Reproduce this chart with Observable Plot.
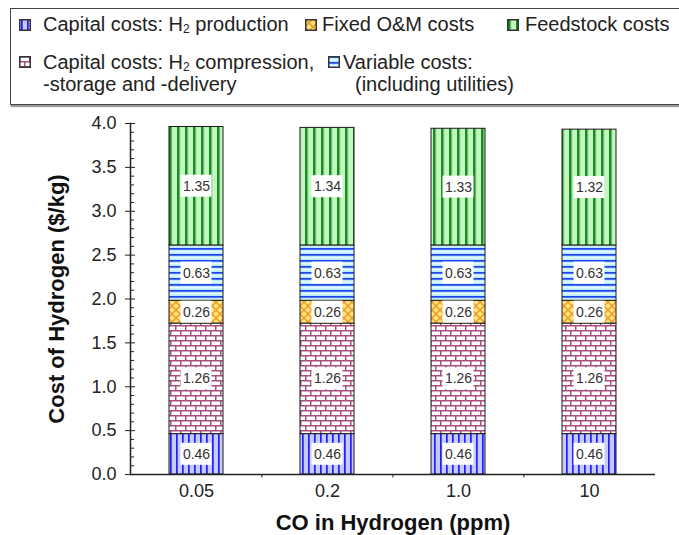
<!DOCTYPE html>
<html><head><meta charset="utf-8">
<script src="https://cdn.jsdelivr.net/npm/d3@7"></script>
<script src="https://cdn.jsdelivr.net/npm/@observablehq/plot@0.6"></script>
<style>
body{margin:0;background:#fff;font-family:"Liberation Sans",Arial,sans-serif;}
#wrap{position:relative;width:679px;height:535px;overflow:hidden;background:#fff;}
#legend{position:absolute;left:10px;top:8px;width:720px;height:97px;border:1px solid #444;box-shadow:1px 2px 1px #9a9a9a;box-sizing:border-box;background:#fff;}
.item{position:absolute;font-size:20px;color:#222;line-height:21px;white-space:nowrap;}
.item sub{font-size:12px;line-height:0;vertical-align:-2px;}
.sw{position:absolute;width:12px;height:12px;}
#chart{position:absolute;left:0;top:110px;}
</style></head>
<body>
<div id="wrap">
<svg id="defs" width="0" height="0" style="position:absolute;left:0;top:0">
<defs>
<pattern id="p-prod" width="6" height="6" patternUnits="userSpaceOnUse">
<rect width="6" height="6" fill="#c7caff"/><rect x="2" width="1.7" height="6" fill="#1e1eff"/>
</pattern>
<pattern id="p-comp" width="10" height="10" patternUnits="userSpaceOnUse">
<rect width="10" height="10" fill="#ffffff"/>
<rect y="0" width="10" height="1.5" fill="#a84f80"/>
<rect y="5" width="10" height="1.5" fill="#a84f80"/>
<rect x="0" y="0" width="1.5" height="5" fill="#a84f80"/>
<rect x="5" y="5" width="1.5" height="5" fill="#a84f80"/>
</pattern>
<pattern id="p-fixed" width="8" height="8" patternUnits="userSpaceOnUse">
<rect width="8" height="8" fill="#ffe57c"/>
<path d="M0,0L8,8M8,0L0,8" stroke="#f09a2a" stroke-width="1.5"/>
</pattern>
<pattern id="p-var" width="6" height="6" patternUnits="userSpaceOnUse">
<rect width="6" height="6" fill="#b9ecfd"/>
<rect y="0" width="6" height="1.7" fill="#2142ea"/>
<rect y="3.3" width="6" height="1" fill="#ffffff"/>
</pattern>
<pattern id="p-feed" width="8" height="8" patternUnits="userSpaceOnUse">
<rect width="8" height="8" fill="#c6f6bf"/>
<rect x="1" width="2" height="8" fill="#1a8a2a"/>
<rect x="3" width="1.2" height="8" fill="#5cc45c"/>
</pattern>
</defs>
</svg>
<div id="legend"></div>
<div id="chart"></div>
</div>
<script>
// ---- data ----
const categories = ["0.05", "0.2", "1.0", "10"];
const seriesNames = [
  "Capital costs: H2 production",
  "Capital costs: H2 compression, -storage and -delivery",
  "Fixed O&M costs",
  "Variable costs: (including utilities)",
  "Feedstock costs"
];
const capProduction = [0.46, 0.46, 0.46, 0.46];
const capCompression = [1.26, 1.26, 1.26, 1.26];
const fixedOM = [0.26, 0.26, 0.26, 0.26];
const variableCosts = [0.63, 0.63, 0.63, 0.63];
const feedstock = [1.35, 1.34, 1.33, 1.32];
const yMajorTicks = [0, 0.5, 1.0, 1.5, 2.0, 2.5, 3.0, 3.5, 4.0];
const yMinorTicks = d3.range(0, 41).map(i => i / 10).filter(v => !yMajorTicks.some(m => Math.abs(m - v) < 1e-9));
const yTitle = "Cost of Hydrogen ($/kg)";
const xTitle = "CO in Hydrogen (ppm)";

const seriesValues = [capProduction, capCompression, fixedOM, variableCosts, feedstock];
const patternIds = ["p-prod", "p-comp", "p-fixed", "p-var", "p-feed"];

// ---- legend (HTML) ----
const legendLines = [
  ["Capital costs: H2 production"],
  ["Capital costs: H2 compression,", "-storage and -delivery"],
  ["Fixed O&M costs"],
  ["Variable costs:", "(including utilities)"],
  ["Feedstock costs"]
];
const legendPos = [
  {sx: 8, sy: 10, tx: 32, ty: 5},
  {sx: 8, sy: 47, tx: 32, ty: 43},
  {sx: 294, sy: 10, tx: 311, ty: 5},
  {sx: 317, sy: 47, tx: 332, ty: 43},
  {sx: 496, sy: 10, tx: 514, ty: 5}
];
const legend = document.getElementById("legend");
const fmtH2 = s => s.replace("H2", "H<sub>2</sub>");
legendLines.forEach((lines, i) => {
  const p = legendPos[i];
  const sw = document.createElementNS("http://www.w3.org/2000/svg", "svg");
  sw.setAttribute("class", "sw");
  sw.setAttribute("width", 12); sw.setAttribute("height", 12);
  sw.style.left = p.sx + "px"; sw.style.top = p.sy + "px";
  sw.innerHTML = `<rect x="0.75" y="0.75" width="10.5" height="10.5" fill="url(#${patternIds[i]})" stroke="#333" stroke-width="1.5"/>`;
  legend.appendChild(sw);
  lines.forEach((l, k) => {
    const t = document.createElement("div");
    t.className = "item";
    t.style.left = (p.tx + (i === 3 && k === 1 ? 12 : 0)) + "px";
    t.style.top = (p.ty + k * 22) + "px";
    t.innerHTML = fmtH2(l);
    legend.appendChild(t);
  });
});

// ---- stacked rows ----
const rows = [];
categories.forEach((c, i) => {
  let acc = 0;
  seriesValues.forEach((vals, s) => {
    const v = vals[i];
    rows.push({cat: c, series: seriesNames[s], value: v, y1: acc, y2: acc + v, mid: acc + v / 2});
    acc += v;
  });
});

const font = '"Liberation Sans", Arial, sans-serif';
const chart = Plot.plot({
  width: 679, height: 425,
  marginTop: 13, marginBottom: 61, marginLeft: 130, marginRight: 24,
  style: {fontFamily: font, fontSize: "18px", color: "#222", background: "white", overflow: "visible"},
  x: {domain: categories, paddingInner: 0.59, paddingOuter: 0.295, axis: null},
  y: {domain: [0, 4], axis: null},
  color: {domain: seriesNames, range: patternIds.map(id => `url(#${id})`)},
  marks: [
    Plot.barY(rows, {x: "cat", y1: "y1", y2: "y2", fill: "series", stroke: "#1a1a1a", strokeWidth: 1}),
    Plot.barY(rows, {x: "cat", y1: "mid", y2: "mid", insetTop: -11, insetBottom: -11, insetLeft: 11.5, insetRight: 11.5, fill: "white"}),
    Plot.text(rows, {x: "cat", y: "mid", text: d => d.value.toFixed(2), fontSize: 14, fill: "#333"}),
    Plot.axisX({tickSize: 0, tickPadding: 10, fontSize: 18, label: null}),
    Plot.axisY({ticks: yMajorTicks, tickFormat: d => d.toFixed(1), tickSize: 0, tickPadding: 14, fontSize: 18, label: null}),
    Plot.axisY({ticks: yMajorTicks, tickFormat: () => "", tickSize: 10, dx: 5, label: null, stroke: "#222"}),
    Plot.axisY({ticks: yMinorTicks, tickFormat: () => "", tickSize: 4, dx: 4, label: null, stroke: "#222"}),
    Plot.ruleX(categories.slice(1), {x: d => d, y1: 0, y2: -0.04, dx: -65.6, stroke: "#222"}),
    Plot.ruleY([0], {stroke: "#222", strokeWidth: 1.5}),
    Plot.frame({anchor: "left", stroke: "#222", strokeWidth: 1.5}),
    Plot.text([yTitle], {frameAnchor: "left", dx: -74, rotate: -90, textAnchor: "middle", lineAnchor: "middle", fontWeight: "bold", fontSize: 22, fill: "#111"}),
    Plot.text([xTitle], {frameAnchor: "bottom", dy: 48, textAnchor: "middle", lineAnchor: "middle", fontWeight: "bold", fontSize: 22, fill: "#111"})
  ]
});
document.getElementById("chart").appendChild(chart);
</script>
</body></html>
